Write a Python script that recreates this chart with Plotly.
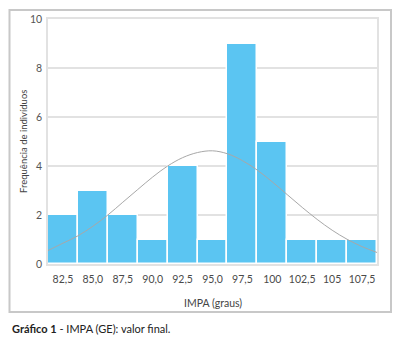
import plotly.graph_objects as go

# Data
categories = [82.5, 85.0, 87.5, 90.0, 92.5, 95.0, 97.5, 100.0, 102.5, 105.0, 107.5]
tick_labels = ["82,5", "85,0", "87,5", "90,0", "92,5", "95,0", "97,5", "100", "102,5", "105", "107,5"]
frequencies = [2, 3, 2, 1, 4, 1, 9, 5, 1, 1, 1]

# Normal curve
curve_x = [81.25, 82.5, 83.75, 85.0, 86.25, 87.5, 88.75, 90.0, 91.25, 92.5, 93.75, 95.0,
           96.25, 97.5, 98.75, 100.0, 101.25, 102.5, 103.75, 105.0, 106.25, 107.5, 108.75]
curve_y = [0.55, 0.85, 1.15, 1.54, 2.0, 2.52, 3.04, 3.55, 4.0, 4.34, 4.55, 4.62,
           4.5, 4.22, 3.83, 3.35, 2.83, 2.31, 1.82, 1.38, 1.01, 0.71, 0.47]

FONT = "Lato"

fig = go.Figure()
fig.add_trace(go.Bar(
    x=categories, y=frequencies, width=2.5,
    marker=dict(color="#5BC5F2", line=dict(color="white", width=1.5)),
    showlegend=False, hoverinfo="skip",
))
fig.add_trace(go.Scatter(
    x=curve_x, y=curve_y, mode="lines", line=dict(color="#a8a8a8", width=1, shape="spline"),
    showlegend=False, hoverinfo="skip",
))

L, R, T, B = 48, 23, 19, 74
W, H = 400, 338
pw, ph = W - L - R, H - T - B

def px(x):
    return (x - L) / pw

def py(y):
    return (H - B - y) / ph

fig.update_layout(
    width=W, height=H,
    margin=dict(l=L, r=R, t=T, b=B, pad=0),
    paper_bgcolor="white", plot_bgcolor="white",
    bargap=0,
    font=dict(family=FONT, size=11, color="#444"),
    xaxis=dict(
        range=[81.25, 108.75], tickvals=categories, ticktext=tick_labels,
        showgrid=False, zeroline=False, showline=True, linecolor="#e2e2e2", linewidth=1.5,
        mirror=True, ticks="", ticklabelstandoff=5,
        tickfont=dict(size=10.5, color="#4a4a4a", family=FONT),
    ),
    yaxis=dict(
        range=[0, 10], tickvals=[0, 2, 4, 6, 8, 10],
        showgrid=True, gridcolor="#e2e2e2", gridwidth=1.5,
        zeroline=False, showline=True, linecolor="#e2e2e2", linewidth=1.5, mirror=True,
        ticks="", ticklabelstandoff=2, tickfont=dict(size=10.5, color="#555", family=FONT),
    ),
    shapes=[dict(
        type="rect", xref="paper", yref="paper",
        x0=px(9.5), x1=px(391), y0=py(312), y1=py(10),
        line=dict(color="#c8c8c8", width=2), fillcolor="rgba(0,0,0,0)", layer="below",
    )],
    annotations=[
        dict(text="Frequência de indivíduos", textangle=-90, xref="paper", yref="paper",
             x=px(23), y=py(142), xanchor="center", yanchor="middle", showarrow=False,
             font=dict(size=9.5, color="#444", family=FONT)),
        dict(text="IMPA (graus)", xref="paper", yref="paper",
             x=0.5, y=py(303), xanchor="center", yanchor="middle", showarrow=False,
             font=dict(size=10.5, color="#444", family=FONT)),
        dict(text="<b>Gráfico 1</b> - IMPA (GE): valor final.", xref="paper", yref="paper",
             x=px(10), y=py(328), xanchor="left", yanchor="middle", showarrow=False,
             font=dict(size=11, color="#222", family=FONT)),
    ],
)

fig.write_html("out.html")
